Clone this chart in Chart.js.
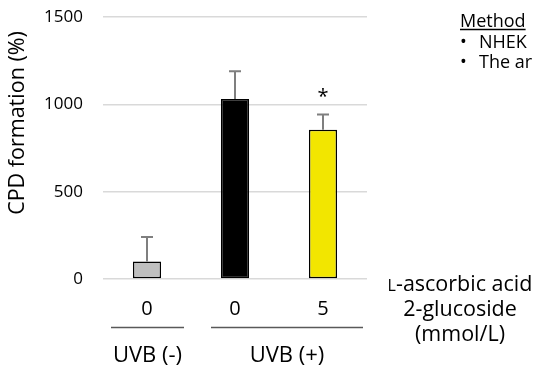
<!DOCTYPE html>
<html>
<head>
<meta charset="utf-8">
<script src="https://cdn.jsdelivr.net/npm/chart.js@4"></script>
<style>
  html, body { margin: 0; padding: 0; background: #fff; }
  #wrap { width: 533px; height: 365px; position: relative; }
</style>
</head>
<body>
<div id="wrap"><canvas id="c" width="533" height="365"></canvas></div>
<script>
// values
const doses = ["0", "0", "5"];
const cpd = [100, 1030, 855];
const cpdSd = [140, 160, 87];
const barColors = ["#bfbfbf", "#000000", "#f2e600"];
const marks = ["", "", "*"];
const yTicks = [0, 500, 1000, 1500];
const yTitle = "CPD formation (%)";

// UVB groups: label, first index, last index
const groupLabels = ["UVB (-)", "UVB (+)"];
const groupFrom = [0, 1];
const groupTo = [0, 2];

const doseTitle = ["-ascorbic acid", "2-glucoside", "(mmol/L)"];
const methodTitle = "Method";
const methodLines = ["NHEK", "The ar"];

const FONT = "'Open Sans', sans-serif";

// error bars, asterisk, group lines and the side texts
const extrasPlugin = {
  id: "extras",
  afterDatasetsDraw(chart) {
    const ctx = chart.ctx;
    const x = chart.scales.x;
    const y = chart.scales.y;
    const area = chart.chartArea;
    ctx.save();

    // error bars (upper only)
    ctx.strokeStyle = "#7f7f7f";
    ctx.lineWidth = 2;
    cpd.forEach((v, i) => {
      const cx = x.getPixelForValue(i);
      const yTop = y.getPixelForValue(v);
      const yErr = y.getPixelForValue(v + cpdSd[i]);
      ctx.beginPath();
      ctx.moveTo(cx, yTop);
      ctx.lineTo(cx, yErr);
      ctx.moveTo(cx - 6, yErr);
      ctx.lineTo(cx + 6, yErr);
      ctx.stroke();

      if (marks[i]) {
        ctx.fillStyle = "#000";
        ctx.font = "20px " + FONT;
        ctx.textAlign = "center";
        ctx.textBaseline = "middle";
        ctx.fillText(marks[i], cx, yErr - 17);
      }
    });

    // y title, not centred on the plot in the original
    ctx.save();
    ctx.translate(18, 123);
    ctx.rotate(-Math.PI / 2);
    ctx.fillStyle = "#000";
    ctx.font = "21.5px " + FONT;
    ctx.textAlign = "center";
    ctx.textBaseline = "middle";
    ctx.fillText(yTitle, 0, 0);
    ctx.restore();

    // group lines + labels
    const padL = [36, 24];
    const padR = [37, 40];
    ctx.strokeStyle = "#595959";
    ctx.lineWidth = 1.5;
    ctx.fillStyle = "#000";
    ctx.font = "22px " + FONT;
    ctx.textAlign = "center";
    ctx.textBaseline = "alphabetic";
    groupLabels.forEach((g, k) => {
      const x0 = x.getPixelForValue(groupFrom[k]) - padL[k];
      const x1 = x.getPixelForValue(groupTo[k]) + padR[k];
      ctx.beginPath();
      ctx.moveTo(x0, 327.5);
      ctx.lineTo(x1, 327.5);
      ctx.stroke();
      ctx.fillText(g, (x0 + x1) / 2, 362);
    });

    // dose title on the right (small-cap L)
    const cxr = area.right + 93;
    ctx.font = "21.5px " + FONT;
    const w0 = ctx.measureText(doseTitle[0]).width;
    ctx.font = "16px " + FONT;
    const wl = ctx.measureText("L").width;
    const start = cxr - (w0 + wl) / 2;
    ctx.textAlign = "left";
    ctx.fillText("L", start, 291);
    ctx.font = "21.5px " + FONT;
    ctx.fillText(doseTitle[0], start + wl, 291);
    ctx.textAlign = "center";
    ctx.fillText(doseTitle[1], cxr, 316);
    ctx.fillText(doseTitle[2], cxr, 341);

    // method note, cut off at the right edge
    ctx.font = "18px " + FONT;
    ctx.textAlign = "left";
    ctx.fillText(methodTitle, 460, 27);
    const mw = ctx.measureText(methodTitle).width;
    ctx.lineWidth = 1.5;
    ctx.strokeStyle = "#000";
    ctx.beginPath();
    ctx.moveTo(460, 29.5);
    ctx.lineTo(460 + mw, 29.5);
    ctx.stroke();
    methodLines.forEach((t, i) => {
      ctx.fillText("\u2022", 460, 47.5 + i * 20);
      ctx.fillText(t, 479, 47.5 + i * 20);
    });

    ctx.restore();
  }
};

new Chart(document.getElementById("c"), {
  type: "bar",
  data: {
    labels: doses,
    datasets: [{
      data: cpd,
      backgroundColor: barColors,
      borderColor: "#000",
      borderWidth: 1.5,
      borderSkipped: false,
      categoryPercentage: 1,
      barPercentage: 0.32
    }]
  },
  options: {
    responsive: false,
    animation: false,
    events: [],
    layout: { padding: { top: 17, right: 166, left: 0, bottom: 0 } },
    plugins: { legend: { display: false }, tooltip: { enabled: false } },
    scales: {
      x: {
        grid: { display: false },
        border: { display: false },
        ticks: { color: "#000", font: { size: 20, family: FONT }, padding: 10 },
        afterFit: (s) => { s.height = 86; s.paddingTop = 0; s.paddingBottom = 0; }
      },
      y: {
        min: 0,
        max: 1500,
        afterBuildTicks: (s) => { s.ticks = yTicks.map((v) => ({ value: v })); },
        grid: { color: "#d9d9d9", lineWidth: 1.5, drawTicks: false },
        border: { display: false },
        ticks: {
          color: "#000",
          font: { size: 17, family: FONT },
          padding: 20,
          callback: (v) => String(v)
        },
        afterFit: (s) => { s.width = 103; s.paddingTop = 0; s.paddingBottom = 0; }
      }
    }
  },
  plugins: [extrasPlugin]
});
</script>
</body>
</html>
